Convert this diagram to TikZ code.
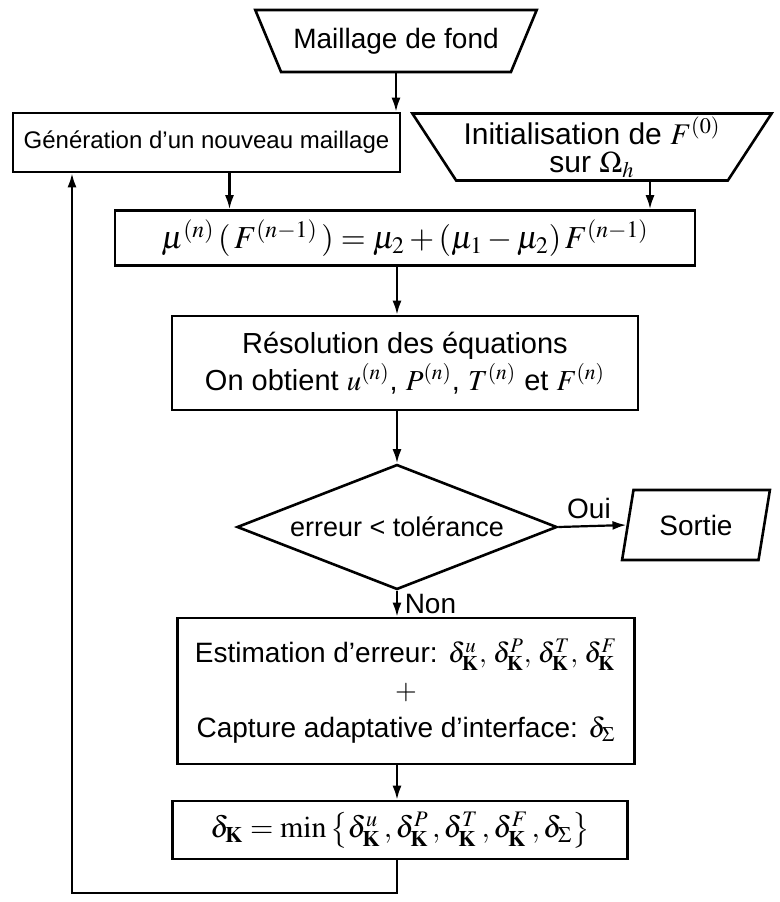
\documentclass[tikz,border=0pt]{standalone}
\usepackage{amsmath, amssymb}
\usepackage{mathptmx}
\usepackage[no-math]{fontspec}
\setmainfont{Liberation Sans}
\usetikzlibrary{shapes.geometric, arrows.meta}

\tikzset{
    boite/.style={draw, line width=1.3pt, rectangle, align=center, inner sep=2pt},
    entree/.style={draw, line width=1.3pt, trapezium, trapezium stretches=true,
        align=center, inner sep=1pt},
    fleche/.style={line width=1.1pt, -{Latex[length=7pt, width=4.5pt]}}
}

\begin{document}
\begin{tikzpicture}[x=0.5pt, y=-0.5pt, font=\fontsize{14}{18.5}\selectfont]
    \useasboundingbox (0,0) rectangle (780,902);
    \node[entree, trapezium left angle=128, trapezium right angle=128,
        minimum width=141pt, minimum height=31pt] (fond) at (396,41) {Maillage de fond};
    \node[boite, minimum width=193.5pt, minimum height=29.5pt, inner sep=1pt,
        font=\fontsize{12}{14}\selectfont] (gen) at (206.5,142.5)
        {G\'en\'eration d'un nouveau maillage};
    \node[entree, trapezium left angle=123, trapezium right angle=123,
        minimum width=180pt, minimum height=33.5pt, font=\fontsize{15}{14}\selectfont] (init) at (592,147)
        {Initialisation de $F^{(0)}$\\sur $\Omega_h$};
    \node[boite, minimum width=290pt, minimum height=27.5pt, font=\fontsize{16}{18}\selectfont] (mu) at (405,238)
        {$\mu^{(n)}\,(\,F^{(n-1)}\,) = \mu_2 + (\mu_1 - \mu_2)\,F^{(n-1)}$};
    \node[boite, minimum width=233pt, minimum height=47pt, font=\fontsize{14.5}{18.5}\selectfont] (resol) at (405,363)
        {R\'esolution des \'equations\\On obtient $u^{(n)}$, $P^{(n)}$, $T^{(n)}$ et $F^{(n)}$};
    \node[draw, line width=1.3pt, diamond, aspect=2.56, inner sep=0pt,
        minimum width=160pt, minimum height=62.5pt, font=\fontsize{13.5}{16}\selectfont] (test) at (397,527)
        {erreur < tol\'erance};
    \node[entree, trapezium left angle=74, trapezium right angle=106,
        minimum width=74pt, minimum height=35pt] (sortie) at (696,525) {Sortie};
    \node[boite, minimum width=228.5pt, minimum height=73pt, font=\fontsize{14}{18.7}\selectfont] (estim) at (406,691)
        {Estimation d'erreur: $\delta^u_{\mathbf{K}},\,\delta^P_{\mathbf{K}},\,\delta^T_{\mathbf{K}},\,\delta^F_{\mathbf{K}}$\\
        $+$\\
        Capture adaptative d'interface: $\delta_\Sigma$};
    \node[boite, minimum width=227.5pt, minimum height=29pt, font=\fontsize{15}{16}\selectfont] (delta) at (400,830)
        {$\delta_{\mathbf{K}} = \min\left\{\delta^u_{\mathbf{K}}\,, \delta^P_{\mathbf{K}}\,, \delta^T_{\mathbf{K}}\,, \delta^F_{\mathbf{K}}\,, \delta_\Sigma\right\}$};
    \coordinate (coin) at (72,893);

    \draw[fleche] (fond.south) -- (fond.south |- gen.north);
    \draw[fleche] ([xshift=11.5pt]gen.south) -- ([xshift=11.5pt]gen.south |- mu.north);
    \draw[fleche] ([xshift=29pt]init.south) -- ([xshift=29pt]init.south |- mu.north);
    \draw[fleche] (mu.south -| test.north) -- (test.north |- resol.north);
    \draw[fleche] (resol.south -| test.north) -- (test.north);
    \draw[fleche] (test.east) -- node[above, pos=0.45] {Oui} (sortie.west);
    \draw[fleche] (test.south) -- node[right] {Non} (test.south |- estim.north);
    \draw[fleche] (estim.south -| test.south) -- (test.south |- delta.north);
    \draw[fleche] (test.south |- delta.south) |- (coin) -- (coin |- gen.south);
\end{tikzpicture}
\end{document}
